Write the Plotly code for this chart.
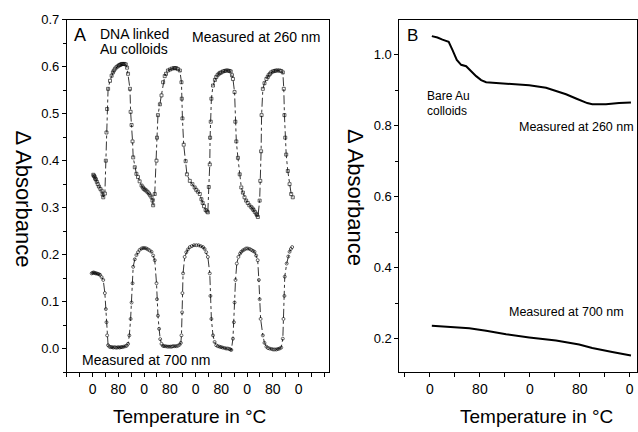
import plotly.graph_objects as go

# ---------------- Panel A: DNA linked Au colloids ----------------
# x is cumulative scan position (each 80-unit segment = one 0->80 or 80->0 ramp)
a260_x = [2, 4, 6, 8, 10, 13, 16, 19.5, 24, 28, 31, 33,
          38, 41, 43, 45, 48, 54, 59, 63, 66, 70, 74, 78, 82, 85, 88, 91, 95, 99, 103, 107,
          110, 116, 118, 121, 124, 126, 131, 136, 141, 146, 152, 156, 159, 163, 167, 171, 175, 179, 183, 186, 188,
          193, 198.5, 200, 203, 209, 214, 219, 224, 228, 234, 240, 246, 252, 256, 260, 265, 271,
          276, 277, 279, 283, 289, 293, 302, 310, 317, 322, 327, 333, 338, 342, 346, 351, 355, 358,
          361, 364, 365, 367, 369, 374, 380, 384, 388, 392, 396, 400, 405, 410, 415, 420, 425, 429, 433,
          436, 441, 443.5, 446.5, 451.5, 457, 462, 467, 472, 477, 482, 487, 493, 497, 500, 504, 508.5, 511, 513.5,
          519, 521, 523.5, 525, 529, 534, 540, 544, 547, 551, 555, 560, 565, 570, 575, 581, 586, 591,
          594, 596, 598.5, 601.5, 606.5, 612, 617, 622]
a260_y = [0.370, 0.368, 0.366, 0.362, 0.360, 0.355, 0.350, 0.345, 0.340, 0.336, 0.328, 0.322,
          0.330, 0.400, 0.460, 0.510, 0.553, 0.570, 0.581, 0.588, 0.592, 0.596, 0.599, 0.601, 0.603, 0.604, 0.605, 0.606, 0.606, 0.606, 0.605, 0.598,
          0.585, 0.553, 0.504, 0.476, 0.441, 0.407, 0.386, 0.372, 0.365, 0.356, 0.347, 0.343, 0.340, 0.338, 0.336, 0.333, 0.330, 0.326, 0.322, 0.315, 0.305,
          0.329, 0.400, 0.449, 0.497, 0.520, 0.539, 0.567, 0.580, 0.585, 0.592, 0.594, 0.596, 0.597, 0.597, 0.597, 0.595, 0.592,
          0.567, 0.532, 0.490, 0.434, 0.399, 0.371, 0.357, 0.350, 0.343, 0.338, 0.334, 0.329, 0.318, 0.310, 0.303, 0.295, 0.292, 0.290,
          0.344, 0.392, 0.449, 0.483, 0.532, 0.560, 0.572, 0.578, 0.582, 0.585, 0.587, 0.588, 0.590, 0.591, 0.592, 0.592, 0.591, 0.590, 0.582,
          0.574, 0.546, 0.483, 0.441, 0.406, 0.371, 0.343, 0.332, 0.322, 0.315, 0.310, 0.305, 0.301, 0.298, 0.295, 0.291, 0.287, 0.284, 0.280,
          0.315, 0.357, 0.420, 0.497, 0.553, 0.565, 0.574, 0.578, 0.582, 0.585, 0.588, 0.590, 0.591, 0.592, 0.592, 0.592, 0.591, 0.588,
          0.553, 0.497, 0.449, 0.413, 0.378, 0.350, 0.329, 0.322]

a700_x = [-3, 0, 3, 6, 9, 12, 16, 20, 23, 28, 33,
          38, 41, 43, 45, 48,
          52, 56, 60, 64, 68, 72, 76, 80, 84, 88, 92, 97, 102, 106, 110,
          114, 118, 121, 124, 126, 131, 136, 141, 146, 152, 157, 162, 167, 172, 177, 183, 188, 193,
          198.5, 200, 203, 206.5, 210, 214, 218, 222, 227, 232, 237, 242, 246, 250, 255, 260, 265, 270, 274,
          276, 278, 279, 281, 286, 291, 296, 302, 308, 315, 322, 329, 336, 343, 348, 353, 358,
          364, 366, 369, 374, 379, 384, 389, 394, 399, 404, 410, 415, 420, 425, 428, 431,
          436, 439, 441, 444, 448, 453, 458, 462, 467, 472, 477, 482, 488, 493, 498, 503, 508, 513,
          516.5, 519, 522, 529, 534, 540, 545, 550, 556, 561, 566, 571, 576, 581, 586,
          591, 593, 596, 597, 603, 608, 612, 616, 620]
a700_y = [0.160, 0.161, 0.162, 0.161, 0.160, 0.160, 0.159, 0.158, 0.157, 0.152, 0.146,
          0.118, 0.084, 0.056, 0.028, 0.007,
          0.004, 0.003, 0.003, 0.002, 0.003, 0.002, 0.002, 0.003, 0.002, 0.003, 0.003, 0.004, 0.005, 0.006, 0.010,
          0.028, 0.063, 0.098, 0.139, 0.174, 0.190, 0.199, 0.205, 0.210, 0.213, 0.214, 0.214, 0.213, 0.211, 0.209, 0.206, 0.198, 0.188,
          0.139, 0.105, 0.070, 0.042, 0.020, 0.010, 0.006, 0.005, 0.005, 0.004, 0.004, 0.004, 0.004, 0.005, 0.005, 0.005, 0.006, 0.008, 0.012,
          0.028, 0.077, 0.118, 0.160, 0.195, 0.205, 0.211, 0.216, 0.218, 0.220, 0.220, 0.220, 0.218, 0.216, 0.212, 0.205, 0.195,
          0.160, 0.112, 0.063, 0.028, 0.014, 0.007, 0.005, 0.004, 0.003, 0.002, 0.001, 0.000, 0.000, -0.001, -0.002, -0.003,
          0.021, 0.056, 0.098, 0.146, 0.181, 0.195, 0.202, 0.206, 0.209, 0.211, 0.213, 0.213, 0.212, 0.210, 0.208, 0.206, 0.198, 0.188,
          0.146, 0.105, 0.063, 0.028, 0.012, 0.004, 0.001, 0.000, -0.001, -0.002, -0.002, -0.002, -0.001, 0.000, 0.002,
          0.021, 0.063, 0.112, 0.153, 0.181, 0.196, 0.206, 0.212, 0.216]

# ---------------- Panel B: bare Au colloids ----------------
b260_x = [3, 12, 20, 30, 36, 43, 50, 58, 66, 74, 82, 90, 106, 132, 159, 186, 202, 218, 234, 252, 260, 282, 303, 322]
b260_y = [1.053, 1.049, 1.043, 1.037, 1.014, 0.986, 0.972, 0.968, 0.954, 0.940, 0.929, 0.923, 0.921, 0.917,
          0.914, 0.907, 0.898, 0.889, 0.877, 0.864, 0.861, 0.861, 0.864, 0.866]
b700_x = [3, 31, 63, 90, 122, 159, 202, 239, 260, 292, 322]
b700_y = [0.236, 0.232, 0.229, 0.222, 0.212, 0.203, 0.194, 0.183, 0.173, 0.162, 0.152]

# tick labels
a_tickvals = [0, 80, 160, 240, 320, 400, 480, 560, 640]
a_ticktext = ["0", "80", "0", "80", "0", "80", "0", "80", "0"]
b_tickvals = [0, 80, 160, 240, 320]
b_ticktext = ["0", "80", "0", "80", "0"]
a_yticks = [0.0, 0.1, 0.2, 0.3, 0.4, 0.5, 0.6, 0.7]
b_yticks = [0.2, 0.4, 0.6, 0.8, 1.0]

W, H = 638, 432
FONT = "Liberation Sans, Arial, sans-serif"
NARROW = "Liberation Sans Narrow, Arial Narrow, Liberation Sans, sans-serif"

fig = go.Figure()
fig.add_trace(go.Scatter(x=a260_x, y=a260_y, mode="lines+markers", xaxis="x", yaxis="y",
                         line=dict(color="black", width=0.8, dash="dashdot"),
                         marker=dict(symbol="square-open", size=3, color="black", line=dict(width=0.6)),
                         showlegend=False))
fig.add_trace(go.Scatter(x=a700_x, y=a700_y, mode="lines+markers", xaxis="x", yaxis="y",
                         line=dict(color="black", width=0.8, dash="dashdot"),
                         marker=dict(symbol="circle-open", size=3, color="black", line=dict(width=0.6)),
                         showlegend=False))
fig.add_trace(go.Scatter(x=b260_x, y=b260_y, mode="lines", xaxis="x2", yaxis="y2",
                         line=dict(color="black", width=2), showlegend=False))
fig.add_trace(go.Scatter(x=b700_x, y=b700_y, mode="lines", xaxis="x2", yaxis="y2",
                         line=dict(color="black", width=2), showlegend=False))

ydom = [1 - 371.5 / H, 1 - 13 / H]
common_x = dict(showgrid=False, zeroline=False, showline=True, linecolor="black", linewidth=1,
                ticks="outside", ticklen=4, tickcolor="black", mirror=True,
                tickfont=dict(family=NARROW, size=14, color="black"), tickmode="array")
common_y = dict(showgrid=False, zeroline=False, showline=True, linecolor="black", linewidth=1,
                ticks="outside", ticklen=4, tickcolor="black", mirror=True,
                tickfont=dict(family=FONT, size=13, color="black"), tickmode="array")

fig.update_layout(
    width=W, height=H, margin=dict(l=0, r=0, t=0, b=0),
    paper_bgcolor="white", plot_bgcolor="white",
    font=dict(family=FONT, color="black"),
    xaxis=dict(common_x, domain=[67 / W, 330 / W], range=[-80, 736], anchor="y",
               tickvals=a_tickvals, ticktext=a_ticktext,
               minor=dict(tick0=-80, dtick=40, ticks="outside", ticklen=4, tickcolor="black")),
    yaxis=dict(common_y, domain=ydom, range=[-0.051, 0.7], anchor="x",
               tickvals=a_yticks, ticktext=["%.1f" % v for v in a_yticks],
               minor=dict(tick0=0, dtick=0.05, ticks="outside", ticklen=3, tickcolor="black")),
    xaxis2=dict(common_x, domain=[400 / W, 1.0], range=[-49, 331.7], anchor="y2",
                tickvals=b_tickvals, ticktext=b_ticktext,
                minor=dict(tick0=0, dtick=40, ticks="outside", ticklen=4, tickcolor="black")),
    yaxis2=dict(common_y, domain=ydom, range=[0.104, 1.099], anchor="x2",
                tickvals=b_yticks, ticktext=["%.1f" % v for v in b_yticks],
                minor=dict(tick0=0, dtick=0.1, ticks="outside", ticklen=3, tickcolor="black")),
)

def px(xp, yp):
    return xp / W, 1 - yp / H

def ann(text, xp, yp, size, xanchor="left", yanchor="middle", angle=0, family=FONT):
    x, y = px(xp, yp)
    fig.add_annotation(text=text, x=x, y=y, xref="paper", yref="paper", showarrow=False,
                       xanchor=xanchor, yanchor=yanchor, textangle=angle, borderpad=0,
                       font=dict(family=family, size=size, color="black"))

# Panel A labels
ann("A", 80, 28.5, 18, xanchor="center")
ann("DNA linked", 99, 27.5, 14)
ann("Au colloids", 99, 43, 14)
ann("Measured at 260 nm", 191, 31, 14)
ann("Measured at 700 nm", 81, 358.5, 14)
ann("Δ Absorbance", 23.5, 195, 22, xanchor="center", angle=90)
ann("Temperature in °C", 190, 416, 19, xanchor="center")

# Panel B labels
ann("B", 413, 28.5, 17, xanchor="center")
ann("Bare Au", 427, 90, 12)
ann("colloids", 427, 106, 12)
ann("Measured at 260 nm", 519, 121.5, 12.5)
ann("Measured at 700 nm", 509, 310, 12.5)
ann("Δ Absorbance", 355.5, 194, 22, xanchor="center", angle=90)
ann("Temperature in °C", 537, 416, 19, xanchor="center")

fig.write_html("out.html", config={"displayModeBar": False},
               post_script="document.body.style.margin='0px';document.body.style.overflow='hidden';")
